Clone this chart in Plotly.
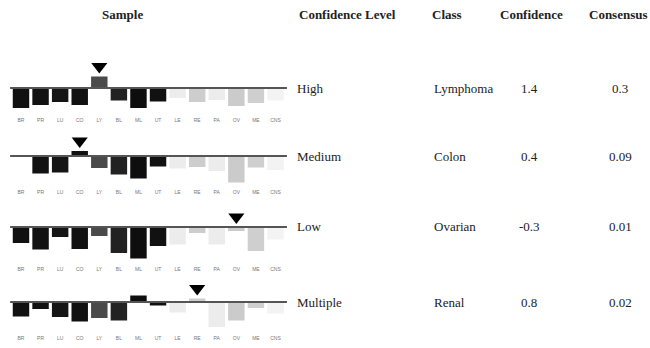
import plotly.graph_objects as go

categories = ["BR", "PR", "LU", "CO", "LY", "BL", "ML", "UT", "LE", "RE", "PA", "OV", "ME", "CNS"]
bar_colors = ["#111111", "#121212", "#151515", "#111111", "#4a4a4a", "#222222", "#0e0e0e", "#111111",
              "#ececec", "#cdcdcd", "#ececec", "#cbcbcb", "#cfcfcf", "#f3f3f3"]

high_values = [-2.0, -1.7, -1.4, -1.7, 1.15, -1.25, -2.0, -1.35, -1.0, -1.4, -1.2, -1.8, -1.5, -1.25]
medium_values = [0.0, -1.75, -1.65, 0.5, -1.2, -1.85, -2.25, -1.05, -1.25, -1.1, -1.5, -2.65, -1.15, -1.4]
low_values = [-1.6, -2.25, -1.0, -2.2, -0.9, -2.6, -3.15, -1.9, -1.75, -0.6, -1.75, -0.4, -2.4, -1.25]
multiple_values = [-1.45, -0.7, -1.5, -1.95, -1.6, -1.85, 0.65, -0.35, -1.05, 0.35, -2.5, -1.85, -0.6, -1.15]

panels = [high_values, medium_values, low_values, multiple_values]
predicted = ["LY", "CO", "OV", "RE"]

confidence_levels = ["High", "Medium", "Low", "Multiple"]
classes = ["Lymphoma", "Colon", "Ovarian", "Renal"]
confidence = ["1.4", "0.4", "-0.3", "0.8"]
consensus = ["0.3", "0.09", "0.01", "0.02"]

headers = ["Sample", "Confidence Level", "Class", "Confidence", "Consensus"]

W, H = 650, 348


def px_x(px):
    return px / W


def px_y(py):
    return 1 - py / H


baselines = [88, 156, 227, 302]
label_y = [120, 192, 269, 338]
x_left, x_right = 11.2, 285.3

fig = go.Figure()
layout = dict(width=W, height=H, margin=dict(l=0, r=0, t=0, b=0),
              paper_bgcolor="white", plot_bgcolor="white", showlegend=False,
              bargap=0.16)

shapes = []
annotations = []
for i, vals in enumerate(panels):
    k = "" if i == 0 else str(i + 1)
    xa, ya = "x" + k, "y" + k
    top_px = baselines[i] - 30
    bot_px = label_y[i] - 4
    y_lo = -(bot_px - baselines[i]) / 10.0
    y_hi = (baselines[i] - top_px) / 10.0
    fig.add_trace(go.Bar(x=categories, y=vals, marker=dict(color=bar_colors, line=dict(width=0)),
                         xaxis=xa, yaxis=ya, hoverinfo="skip"))
    idx = categories.index(predicted[i])
    fig.add_trace(go.Scatter(x=[predicted[i]], y=[max(vals[idx], 0) + 1.0], mode="markers",
                             marker=dict(symbol="triangle-down", size=14, color="black"),
                             xaxis=xa, yaxis=ya, hoverinfo="skip"))
    layout["xaxis" + k] = dict(domain=[px_x(x_left), px_x(x_right)], anchor=ya, type="category",
                               range=[-0.5, 13.5], showgrid=False, zeroline=False, showline=False,
                               ticks="", tickfont=dict(size=5, color="#777777", family="Liberation Sans"),
                               fixedrange=True)
    layout["yaxis" + k] = dict(domain=[px_y(bot_px), px_y(top_px)], anchor=xa,
                               range=[y_lo, y_hi], showgrid=False, zeroline=False,
                               showticklabels=False, ticks="", showline=False, fixedrange=True)
    shapes.append(dict(type="line", xref=xa + " domain", yref=ya, x0=-0.004, x1=1.006, y0=0, y1=0,
                       line=dict(color="#555555", width=2), layer="above"))
    yp = px_y(baselines[i])
    annotations.append(dict(text=confidence_levels[i], x=px_x(295), y=yp, xref="paper", yref="paper",
                            xanchor="left", yanchor="middle", showarrow=False))
    annotations.append(dict(text=classes[i], x=px_x(432), y=yp, xref="paper", yref="paper",
                            xanchor="left", yanchor="middle", showarrow=False))
    annotations.append(dict(text=confidence[i], x=px_x(529), y=yp, xref="paper", yref="paper",
                            xanchor="center", yanchor="middle", showarrow=False))
    annotations.append(dict(text=consensus[i], x=px_x(620), y=yp, xref="paper", yref="paper",
                            xanchor="center", yanchor="middle", showarrow=False))

header_x = [122, 347, 447, 531, 618]
for t, hx in zip(headers, header_x):
    annotations.append(dict(text="<b>" + t + "</b>", x=px_x(hx), y=px_y(14), xref="paper", yref="paper",
                            xanchor="center", yanchor="middle", showarrow=False))

layout["shapes"] = shapes
layout["annotations"] = annotations
layout["font"] = dict(family="Liberation Serif", size=13, color="#222222")
fig.update_layout(**layout)
fig.write_html("out.html", config={"displayModeBar": False},
               post_script="document.body.style.margin='0';document.body.style.overflow='hidden';")
